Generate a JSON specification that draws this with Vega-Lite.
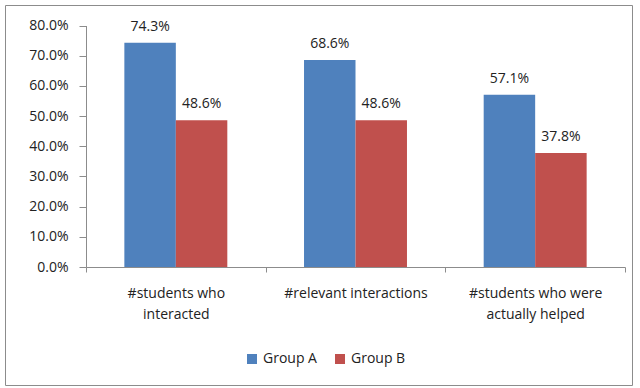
{
  "$schema": "https://vega.github.io/schema/vega-lite/v6.json",
  "width": 627,
  "height": 380,
  "autosize": "none",
  "padding": {"left": 5, "top": 5, "right": 8, "bottom": 3},
  "background": "white",
  "config": {
    "view": {"stroke": "#8c8c8c", "strokeWidth": 1},
    "font": "Open Sans",
    "axis": {"labelFont": "Open Sans", "labelColor": "#222222", "labelFontSize": 14, "domainColor": "#8c8c8c", "tickColor": "#8c8c8c", "grid": false, "title": null}
  },
  "data": {
    "values": [
      {"category": "#students who interacted", "group": "Group A", "value": 0.743},
      {"category": "#students who interacted", "group": "Group B", "value": 0.486},
      {"category": "#relevant interactions", "group": "Group A", "value": 0.686},
      {"category": "#relevant interactions", "group": "Group B", "value": 0.486},
      {"category": "#students who were actually helped", "group": "Group A", "value": 0.571},
      {"category": "#students who were actually helped", "group": "Group B", "value": 0.378}
    ]
  },
  "encoding": {
    "x": {
      "field": "category", "type": "nominal", "sort": null,
      "scale": {"range": [81, 620], "paddingInner": 0, "paddingOuter": 0},
      "axis": {
        "offset": -118, "tickBand": "extent", "labelAngle": 0, "tickSize": 5, "labelPadding": 14,
        "labelLineHeight": 21, "labelBaseline": "top",
        "labelExpr": "datum.value == '#students who interacted' ? ['#students who', 'interacted'] : datum.value == '#students who were actually helped' ? ['#students who were', 'actually helped'] : datum.value"
      }
    },
    "xOffset": {"field": "group", "type": "nominal", "scale": {"paddingInner": 0, "paddingOuter": 0.745}},
    "y": {
      "field": "value", "type": "quantitative",
      "scale": {"domain": [0, 0.8], "range": [262, 20.5], "nice": false},
      "axis": {"offset": -81, "format": ".1%", "values": [0, 0.1, 0.2, 0.3, 0.4, 0.5, 0.6, 0.7, 0.8], "tickSize": 7, "labelPadding": 11}
    }
  },
  "layer": [
    {
      "mark": {"type": "bar"},
      "encoding": {
        "color": {
          "field": "group", "type": "nominal",
          "scale": {"domain": ["Group A", "Group B"], "range": ["#4F81BD", "#C0504D"]},
          "legend": {
            "title": null, "orient": "none", "direction": "horizontal", "legendX": 240, "legendY": 347,
            "symbolType": "square", "symbolSize": 100, "symbolStrokeWidth": 0, "labelFontSize": 14, "labelFont": "Open Sans", "labelColor": "#222222", "columnPadding": 16, "labelOffset": 4
          }
        }
      }
    },
    {
      "mark": {"type": "text", "baseline": "bottom", "dy": -9, "fontSize": 14, "color": "#222222", "font": "Open Sans"},
      "encoding": {"text": {"field": "value", "type": "quantitative", "format": ".1%"}}
    }
  ]
}
